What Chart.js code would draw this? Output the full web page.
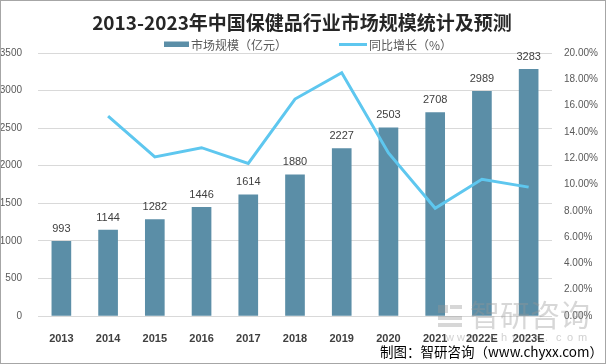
<!DOCTYPE html>
<html>
<head>
<meta charset="utf-8">
<script src="https://cdn.jsdelivr.net/npm/chart.js@4"></script>
<style>
  html, body { margin: 0; padding: 0; background: #fff; }
  canvas { display: block; }
</style>
</head>
<body>
<canvas id="chart" width="606" height="364"></canvas>
<script>
// 2013-2023 中国保健品行业市场规模 — bars (亿元) + growth line (%)

const years      = ['2013','2014','2015','2016','2017','2018','2019','2020','2021','2022E','2023E'];
const marketSize = [993, 1144, 1282, 1446, 1614, 1880, 2227, 2503, 2708, 2989, 3283];
const growthPct  = [null, 15.2, 12.1, 12.8, 11.6, 16.5, 18.5, 12.4, 8.2, 10.4, 9.8];
const leftTicks  = [0, 500, 1000, 1500, 2000, 2500, 3000, 3500];
const rightTicks = [0, 2, 4, 6, 8, 10, 12, 14, 16, 18, 20];

const TITLE      = '2013-2023年中国保健品行业市场规模统计及预测';
const BAR_LABEL  = '市场规模（亿元）';
const LINE_LABEL = '同比增长（%）';
const SOURCE     = '制图：智研咨询（www.chyxx.com）';

const BAR_COLOR  = '#5b8ea7';
const LINE_COLOR = '#5ec7ef';
const TEXT_GREY  = '#595959';
const CJK = '"Noto Sans CJK SC", "Noto Sans", sans-serif';
const LAT = '"Liberation Sans", Arial, sans-serif';

// title, legend, source line, watermark and frame
const decor = {
  id: 'decor',
  beforeDraw(chart) {
    const { ctx } = chart;
    ctx.save();
    ctx.fillStyle = '#fff';
    ctx.fillRect(0, 0, chart.width, chart.height);
    ctx.restore();
  },
  afterDraw(chart) {
    const { ctx } = chart;
    ctx.save();

    // title
    ctx.fillStyle = '#262626';
    ctx.font = `bold 19px ${CJK}`;
    ctx.textAlign = 'center';
    ctx.textBaseline = 'middle';
    ctx.fillText(TITLE, 302, 23);

    // legend
    ctx.textAlign = 'left';
    ctx.font = `12px ${CJK}`;
    ctx.fillStyle = BAR_COLOR;
    ctx.fillRect(164, 41.5, 25, 5.5);
    ctx.fillStyle = TEXT_GREY;
    ctx.fillText(BAR_LABEL, 191, 45);
    ctx.strokeStyle = LINE_COLOR;
    ctx.lineWidth = 3;
    ctx.beginPath();
    ctx.moveTo(339, 44.5);
    ctx.lineTo(367, 44.5);
    ctx.stroke();
    ctx.fillText(LINE_LABEL, 369, 45);

    // watermark
    ctx.fillStyle = 'rgba(150,150,150,0.38)';
    ctx.fillRect(438, 305, 10, 8);
    ctx.fillRect(450, 305, 12, 4);
    ctx.fillRect(438, 316, 24, 4);
    ctx.fillRect(438, 323, 24, 4);
    ctx.font = `30px ${CJK}`;
    ctx.textBaseline = 'middle';
    ctx.fillText('智研咨询', 470, 315);
    ctx.font = `11px ${LAT}`;
    ctx.fillStyle = 'rgba(150,150,150,0.45)';
    'www.chyxx.com'.split('').forEach((c, i) => ctx.fillText(c, 446 + i * 11, 338));

    // source
    ctx.fillStyle = '#000';
    ctx.font = `13.5px ${CJK}`;
    ctx.textAlign = 'right';
    ctx.fillText(SOURCE, 603, 352);

    // frame
    ctx.strokeStyle = '#a6a6a6';
    ctx.lineWidth = 1;
    ctx.strokeRect(0.5, 0.5, chart.width - 1, chart.height - 1);
    ctx.restore();
  }
};

// value labels above the bars
const barLabels = {
  id: 'barLabels',
  afterDatasetsDraw(chart) {
    const { ctx } = chart;
    const meta = chart.getDatasetMeta(1);
    ctx.save();
    ctx.fillStyle = '#404040';
    ctx.font = `11px ${LAT}`;
    ctx.textAlign = 'center';
    ctx.textBaseline = 'bottom';
    meta.data.forEach((bar, i) => {
      ctx.fillText(String(marketSize[i]), bar.x, bar.y - 7);
    });
    ctx.restore();
  }
};

new Chart(document.getElementById('chart'), {
  data: {
    labels: years,
    datasets: [
      {
        type: 'line',
        label: LINE_LABEL,
        data: growthPct,
        yAxisID: 'y1',
        borderColor: LINE_COLOR,
        borderWidth: 3,
        pointRadius: 0,
        tension: 0,
        order: 0,
      },
      {
        type: 'bar',
        label: BAR_LABEL,
        data: marketSize,
        yAxisID: 'y',
        backgroundColor: BAR_COLOR,
        barThickness: 19,
        order: 1,
      },
    ],
  },
  options: {
    responsive: false,
    animation: false,
    layout: { padding: { top: 53, left: 0, right: 0, bottom: 0 } },
    plugins: {
      legend: { display: false },
      title: { display: false },
      tooltip: { enabled: false },
    },
    scales: {
      x: {
        grid: { display: false },
        border: { display: false },
        ticks: { color: '#404040', font: { family: LAT, size: 11, weight: 'bold' }, padding: 8, maxRotation: 0 },
        afterFit: s => { s.height = 48; },
      },
      y: {
        position: 'left',
        min: 0, max: 3500,
        afterBuildTicks: s => { s.ticks = leftTicks.map(v => ({ value: v })); },
        grid: { color: '#d9d9d9', drawTicks: false },
        border: { display: false },
        ticks: { color: TEXT_GREY, font: { family: LAT, size: 10 }, padding: 16,
                 callback: v => String(v) },
        afterFit: s => { s.width = 38; },
      },
      y1: {
        position: 'right',
        min: 0, max: 20,
        afterBuildTicks: s => { s.ticks = rightTicks.map(v => ({ value: v })); },
        grid: { display: false, drawTicks: false },
        border: { display: false },
        ticks: { color: TEXT_GREY, font: { family: LAT, size: 10 }, padding: 12,
                 callback: v => v.toFixed(2) + '%' },
        afterFit: s => { s.width = 54; },
      },
    },
  },
  plugins: [decor, barLabels],
});
</script>
</body>
</html>
